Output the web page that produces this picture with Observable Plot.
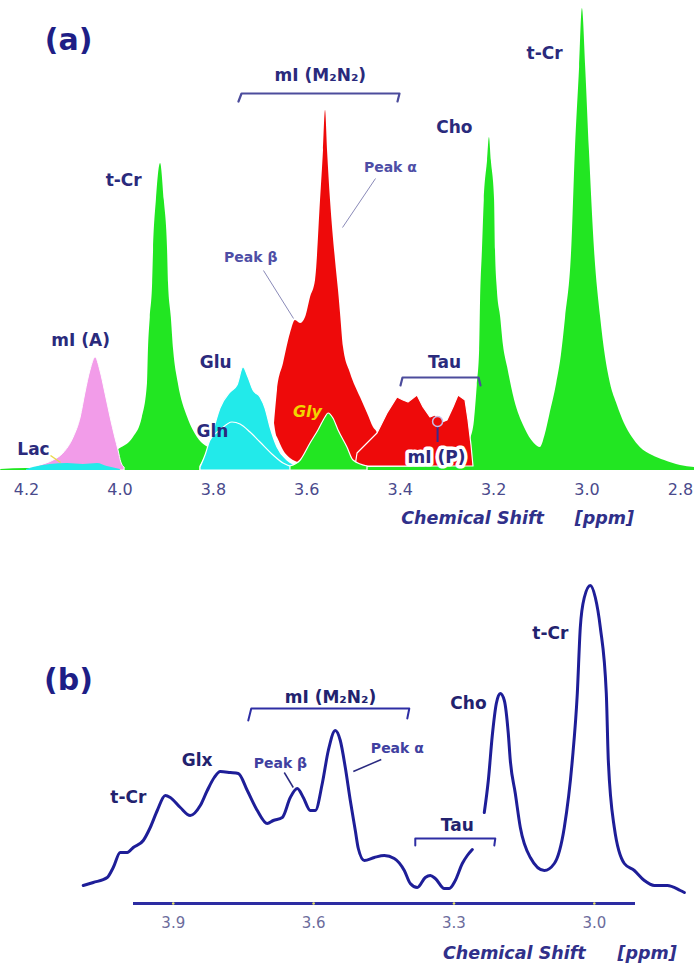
<!DOCTYPE html>
<html>
<head>
<meta charset="utf-8">
<script src="https://cdn.jsdelivr.net/npm/d3@7"></script>
<script src="https://cdn.jsdelivr.net/npm/@observablehq/plot@0.6"></script>
<style>
  html, body { margin: 0; padding: 0; background: #fff; }
  #chart svg { display: block; }
</style>
</head>
<body>
<div id="chart"></div>
<script>
// ---------- Panel (a): fitted component spectra, [ppm, intensity a.u.] ----------
const creatineCholine = [
  [4.255,1],[4.200,2],[4.127,2],[4.063,3],[4.042,5],[4.005,20],[3.971,33],[3.952,53],[3.941,87],
  [3.939,120],[3.935,153],[3.930,187],[3.928,220],[3.922,270],[3.913,307],[3.905,270],[3.898,220],
  [3.896,187],[3.890,153],[3.885,120],[3.875,87],[3.855,53],[3.834,33],[3.800,20],[3.757,10],
  [3.684,5],[3.613,4],[3.470,3],[3.314,4],[3.271,7],[3.258,15],[3.250,30],[3.241,50],[3.235,85],
  [3.230,120],[3.228,170],[3.224,220],[3.220,270],[3.213,310],[3.209,333],[3.205,310],[3.198,270],
  [3.196,220],[3.192,180],[3.185,153],[3.179,125],[3.170,103],[3.155,70],[3.134,43],[3.113,27],
  [3.100,23],[3.090,35],[3.080,55],[3.065,87],[3.055,115],[3.046,153],[3.033,220],[3.025,320],
  [3.016,403],[3.010,462],[3.003,403],[2.995,320],[2.984,220],[2.971,153],[2.961,115],[2.950,87],
  [2.935,65],[2.920,47],[2.903,33],[2.886,23],[2.860,15],[2.834,10],[2.800,5],[2.770,3]
];
const glycine = [
  [3.635,4],[3.613,10],[3.592,27],[3.575,40],[3.560,53],[3.5535,57],[3.543,52],[3.532,40],
  [3.513,23],[3.500,10],[3.470,4]
];
const myoInositolA = [
  [4.191,2],[4.170,5],[4.142,10],[4.121,17],[4.099,33],[4.084,53],[4.074,77],[4.063,100],
  [4.052,113],[4.042,100],[4.031,77],[4.020,53],[4.010,33],[4.003,20],[3.997,8],[3.990,3]
];
const glxTail = [
  [4.200,1],[4.185,3],[4.149,6],[4.112,7],[4.078,6],[4.048,7],[4.027,4],[3.999,1]
];
const glutamate = [
  [3.8275,4],[3.8168,13],[3.8061,25],[3.7997,38],[3.7847,62],[3.7633,78],[3.7483,85],[3.7355,103],
  [3.7248,93],[3.7141,80],[3.6991,73],[3.6884,62],[3.6777,43],[3.6627,23],[3.6413,10],[3.6242,5]
];
const glutamine = [
  [3.8275,3],[3.8168,15],[3.8061,30],[3.7847,40],[3.759,48],[3.7419,46],[3.7205,38],[3.6991,28],
  [3.6712,15],[3.6498,7],[3.6284,3]
];
// [ppm, lower, upper]
const myoInositolM2N2 = [
  [3.6691,47,47],[3.6648,35,70],[3.6627,33,80],[3.6498,20,107],[3.6349,12,137],[3.6242,9,150],
  [3.6134,7,147],[3.6027,6,153],[3.5920,5,173],[3.5813,4,190],[3.5706,4,270],[3.5642,4,320],
  [3.5599,4,360],[3.5556,4,320],[3.5492,4,270],[3.5385,4,210],[3.5321,4,180],[3.5278,4,157],
  [3.5214,4,123],[3.5064,4,97],[3.4850,4,73],[3.4700,4,57],[3.4572,4,43],[3.4486,4,37],[3.4470,4,4]
];
const taurine = [
  [3.4957,4,4],[3.4914,4,17],[3.4700,4,27],[3.4486,4,37],[3.4272,4,57],[3.4058,4,73],[3.3930,4,70],
  [3.3823,4,68],[3.3630,4,75],[3.3501,4,63],[3.3352,4,53],[3.3245,4,55],[3.3138,4,47],[3.2988,4,50],
  [3.2859,4,63],[3.2752,4,75],[3.2602,4,70],[3.2538,4,50],[3.2474,4,25],[3.2431,4,4]
];
const ticksA = [4.2, 4.0, 3.8, 3.6, 3.4, 3.2, 3.0, 2.8];

const labelsA = [
  {text: "t-Cr", ppm: 3.992, a: 290},
  {text: "Cho", ppm: 3.284, a: 343},
  {text: "t-Cr", ppm: 3.091, a: 417},
  {text: "mI (A)", ppm: 4.084, a: 130},
  {text: "Glu", ppm: 3.795, a: 108},
  {text: "Gln", ppm: 3.802, a: 39},
  {text: "Lac", ppm: 4.185, a: 21},
  {text: "mI (M\u2082N\u2082)", ppm: 3.571, a: 395},
  {text: "Tau", ppm: 3.305, a: 108}
];
const peakLabelsA = [
  {text: "Peak \u03b1", ppm: 3.421, a: 303},
  {text: "Peak \u03b2", ppm: 3.720, a: 213}
];
const leadersA = [
  {ppm1: 3.4529, a1: 292, ppm2: 3.5235, a2: 243},
  {ppm1: 3.6927, a1: 200, ppm2: 3.6284, a2: 152}
];
const bracketsA = [
  {id: "m2n2", pts: [[3.7462,369],[3.7397,377],[3.4015,377],[3.4058,369]]},
  {id: "tau", pts: [[3.3994,85],[3.3951,93],[3.2324,93],[3.2281,85]]}
];
const axisTitleA = [{text: "Chemical Shift", ppm: 3.245}, {text: "[ppm]", ppm: 2.963}];

// ---------- Panel (b): measured in vivo spectrum, [ppm, intensity a.u.] ----------
const spectrumB = [
  [4.0924,18],[4.0710,21],[4.0411,26],[4.0283,36],[4.0133,51],[3.9983,51],[3.9855,56],[3.9641,63],
  [3.9492,76],[3.9342,93],[3.9171,108],[3.9064,106],[3.8850,96],[3.8637,88],[3.8423,98],[3.8273,113],
  [3.8124,126],[3.7995,132],[3.7782,131],[3.7610,130],[3.7418,113],[3.7204,93],[3.6991,80],[3.6862,83],
  [3.6670,86],[3.6499,106],[3.6349,115],[3.6221,106],[3.6071,93],[3.5964,93],[3.5815,120],[3.5686,153],
  [3.5537,173],[3.5430,163],[3.5323,136],[3.5216,103],[3.5109,73],[3.5045,55],[3.4917,43],[3.4703,46],
  [3.4489,48],[3.4276,45],[3.4062,33],[3.3934,20],[3.3784,16],[3.3613,26],[3.3506,28],[3.3399,25],
  [3.3207,15],[3.3100,15],[3.2972,23],[3.2822,40],[3.2715,48],[3.2608,54]
];
const spectrumBUpfield = [
  [3.2352,91],[3.2266,123],[3.2181,168],[3.2095,200],[3.2010,210],[3.1924,203],[3.1839,170],
  [3.1796,143],[3.1689,110],[3.1582,76],[3.1368,46],[3.1069,33],[3.0855,40],[3.0642,76],[3.0471,143],
  [3.0364,210],[3.0300,276],[3.0214,306],[3.0086,318],[2.9979,306],[2.9872,276],[2.9744,210],
  [2.9701,143],[2.9573,76],[2.9359,40],[2.9145,33],[2.8931,23],[2.8718,18],[2.8440,18],[2.8162,13],
  [2.8076,11]
];
const ticksB = [3.9, 3.6, 3.3, 3.0];

const labelsB = [
  {text: "t-Cr", ppm: 3.996, a: 106},
  {text: "Glx", ppm: 3.849, a: 143},
  {text: "mI (M\u2082N\u2082)", ppm: 3.564, a: 206},
  {text: "Cho", ppm: 3.269, a: 200},
  {text: "t-Cr", ppm: 3.094, a: 270},
  {text: "Tau", ppm: 3.293, a: 78}
];
const peakLabelsB = [
  {text: "Peak \u03b2", ppm: 3.671, a: 140},
  {text: "Peak \u03b1", ppm: 3.421, a: 155}
];
const leadersB = [
  {ppm1: 3.6627, a1: 131, ppm2: 3.6435, a2: 116},
  {ppm1: 3.5152, a1: 132, ppm2: 3.4554, a2: 144}
];
const bracketsB = [
  {id: "m2n2", pts: [[3.7397,183],[3.7333,195],[3.3955,195],[3.3998,185]]},
  {id: "tau", pts: [[3.3827,58],[3.3827,65],[3.2117,65],[3.2138,58]]}
];
const axisTitleB = [{text: "Chemical Shift", ppm: 3.171}, {text: "[ppm]", ppm: 2.887}];

// ---------- helpers ----------
const pts = (arr) => arr.map(([ppm, a]) => ({ppm, a}));
const band = (arr) => arr.map(([ppm, lo, hi]) => ({ppm, lo, hi}));
const bracketPts = (list) => list.flatMap(b => b.pts.map(([ppm, a]) => ({id: b.id, ppm, a})));

const FONT = "DejaVu Sans, Verdana, sans-serif";
const INK = "#2a2a7c";
const GREEN = "#22e622";
const RED = "#ee0a0a";
const CYAN = "#22eaea";
const PINK = "#f29ce9";
const SMOOTH = "monotone-x";

// ---------- panel (a) ----------
const panelA = Plot.plot({
  width: 694,
  height: 540,
  marginLeft: 26,
  marginRight: 14,
  marginTop: 8,
  marginBottom: 70,
  style: {fontFamily: FONT, background: "white"},
  x: {domain: [4.2, 2.8], label: null},
  y: {domain: [0, 462], axis: null},
  marks: [
    Plot.areaY(pts(creatineCholine), {x: "ppm", y: "a", fill: GREEN, curve: SMOOTH}),
    Plot.areaY(pts(myoInositolA), {x: "ppm", y: "a", fill: PINK, stroke: "white", strokeWidth: 1, curve: SMOOTH}),
    Plot.areaY(pts(glxTail), {x: "ppm", y: "a", fill: CYAN, curve: SMOOTH}),
    Plot.areaY(pts(glutamate), {x: "ppm", y: "a", fill: CYAN, stroke: "white", strokeWidth: 1.2, curve: SMOOTH}),
    Plot.areaY(pts(glutamine), {x: "ppm", y: "a", fill: CYAN, stroke: "white", strokeWidth: 1.2, curve: SMOOTH}),
    Plot.areaY(band(myoInositolM2N2), {x: "ppm", y1: "lo", y2: "hi", fill: RED, curve: SMOOTH}),
    Plot.areaY(band(taurine), {x: "ppm", y1: "lo", y2: "hi", fill: RED, stroke: "white", strokeWidth: 1.2, curve: "linear"}),
    Plot.areaY(pts(glycine), {x: "ppm", y: "a", fill: GREEN, stroke: "white", strokeWidth: 1.2, curve: SMOOTH}),

    // mI (P) marker
    Plot.ruleX([{ppm: 3.320}], {x: "ppm", y1: 28, y2: 50, stroke: "#3a2a8a", strokeWidth: 2}),
    Plot.dot([{ppm: 3.320, a: 49}], {x: "ppm", y: "a", r: 5, stroke: "#c8c0e8", strokeWidth: 1.5, fill: RED}),

    // Lac pointer
    Plot.link([{ppm1: 4.1486, a1: 15, ppm2: 4.1272, a2: 8}], {x1: "ppm1", y1: "a1", x2: "ppm2", y2: "a2", stroke: "#e8d84a", strokeWidth: 1.5}),

    // brackets and leaders
    Plot.line(bracketPts(bracketsA), {x: "ppm", y: "a", z: "id", stroke: "#4c4c9c", strokeWidth: 2.2}),
    Plot.link(leadersA, {x1: "ppm1", y1: "a1", x2: "ppm2", y2: "a2", stroke: "#8a8ab8", strokeWidth: 1}),

    // labels
    Plot.text(labelsA, {x: "ppm", y: "a", text: "text", fontSize: 17, fontWeight: "bold", fill: INK}),
    Plot.text([{text: "mI (P)", ppm: 3.3223, a: 13}], {x: "ppm", y: "a", text: "text", fontSize: 17, fontWeight: "bold", fill: INK, stroke: "white", strokeWidth: 7}),
    Plot.text(peakLabelsA, {x: "ppm", y: "a", text: "text", fontSize: 14, fontWeight: "bold", fill: "#4e4ea6"}),
    Plot.text([{text: "Gly", ppm: 3.5985, a: 59}], {x: "ppm", y: "a", text: "text", fontSize: 16, fontWeight: "bold", fontStyle: "italic", fill: "#f2d400"}),
    Plot.text(["(a)"], {frameAnchor: "top-left", textAnchor: "middle", lineAnchor: "middle", dx: 42, dy: 32, text: d => d, fontSize: 30, fontWeight: "bold", fill: "#1e1e86"}),

    // axis
    Plot.axisX({ticks: ticksA, tickFormat: d3.format(".1f"), tickSize: 0, tickPadding: 13, fontSize: 16, color: "#4a4a8c", label: null}),
    Plot.text(axisTitleA, {x: "ppm", frameAnchor: "bottom", dy: 53, text: "text", fontSize: 17.5, fontWeight: "bold", fontStyle: "italic", fill: "#30308a"})
  ]
});

// ---------- panel (b) ----------
const lineB = [
  ...pts(spectrumB).map(d => ({...d, seg: "downfield"})),
  ...pts(spectrumBUpfield).map(d => ({...d, seg: "upfield"}))
];

const panelB = Plot.plot({
  width: 694,
  height: 426,
  marginLeft: 133,
  marginRight: 59,
  marginTop: 33,
  marginBottom: 63,
  style: {fontFamily: FONT, background: "white"},
  x: {domain: [3.985, 2.912], label: null},
  y: {domain: [0, 330], axis: null},
  marks: [
    Plot.ruleY([0], {stroke: "#2c2ca2", strokeWidth: 3}),
    Plot.dot(ticksB, {x: d => d, y: 0, r: 1.3, fill: "#e9e46a"}),
    Plot.axisX({ticks: ticksB, tickFormat: d3.format(".1f"), tickSize: 0, tickPadding: 14, fontSize: 15, color: "#6c6c9c", label: null}),
    Plot.line(lineB, {x: "ppm", y: "a", z: "seg", stroke: "#1e1e98", strokeWidth: 3, curve: "monotone-x"}),

    Plot.line(bracketPts(bracketsB), {x: "ppm", y: "a", z: "id", stroke: "#2e2ea4", strokeWidth: 2}),
    Plot.link(leadersB, {x1: "ppm1", y1: "a1", x2: "ppm2", y2: "a2", stroke: "#2a2a80", strokeWidth: 1.5}),

    Plot.text(labelsB, {x: "ppm", y: "a", text: "text", fontSize: 17, fontWeight: "bold", fill: "#22226e"}),
    Plot.text(peakLabelsB, {x: "ppm", y: "a", text: "text", fontSize: 14, fontWeight: "bold", fill: "#4040a0"}),
    Plot.text(["(b)"], {frameAnchor: "top-left", textAnchor: "middle", lineAnchor: "middle", dx: -65, dy: 107, text: d => d, fontSize: 30, fontWeight: "bold", fill: "#1e1e86"}),

    Plot.text(axisTitleB, {x: "ppm", frameAnchor: "bottom", dy: 55, text: "text", fontSize: 17.5, fontWeight: "bold", fontStyle: "italic", fill: "#30308a"})
  ]
});

const root = document.getElementById("chart");
root.append(panelA, panelB);
</script>
</body>
</html>
